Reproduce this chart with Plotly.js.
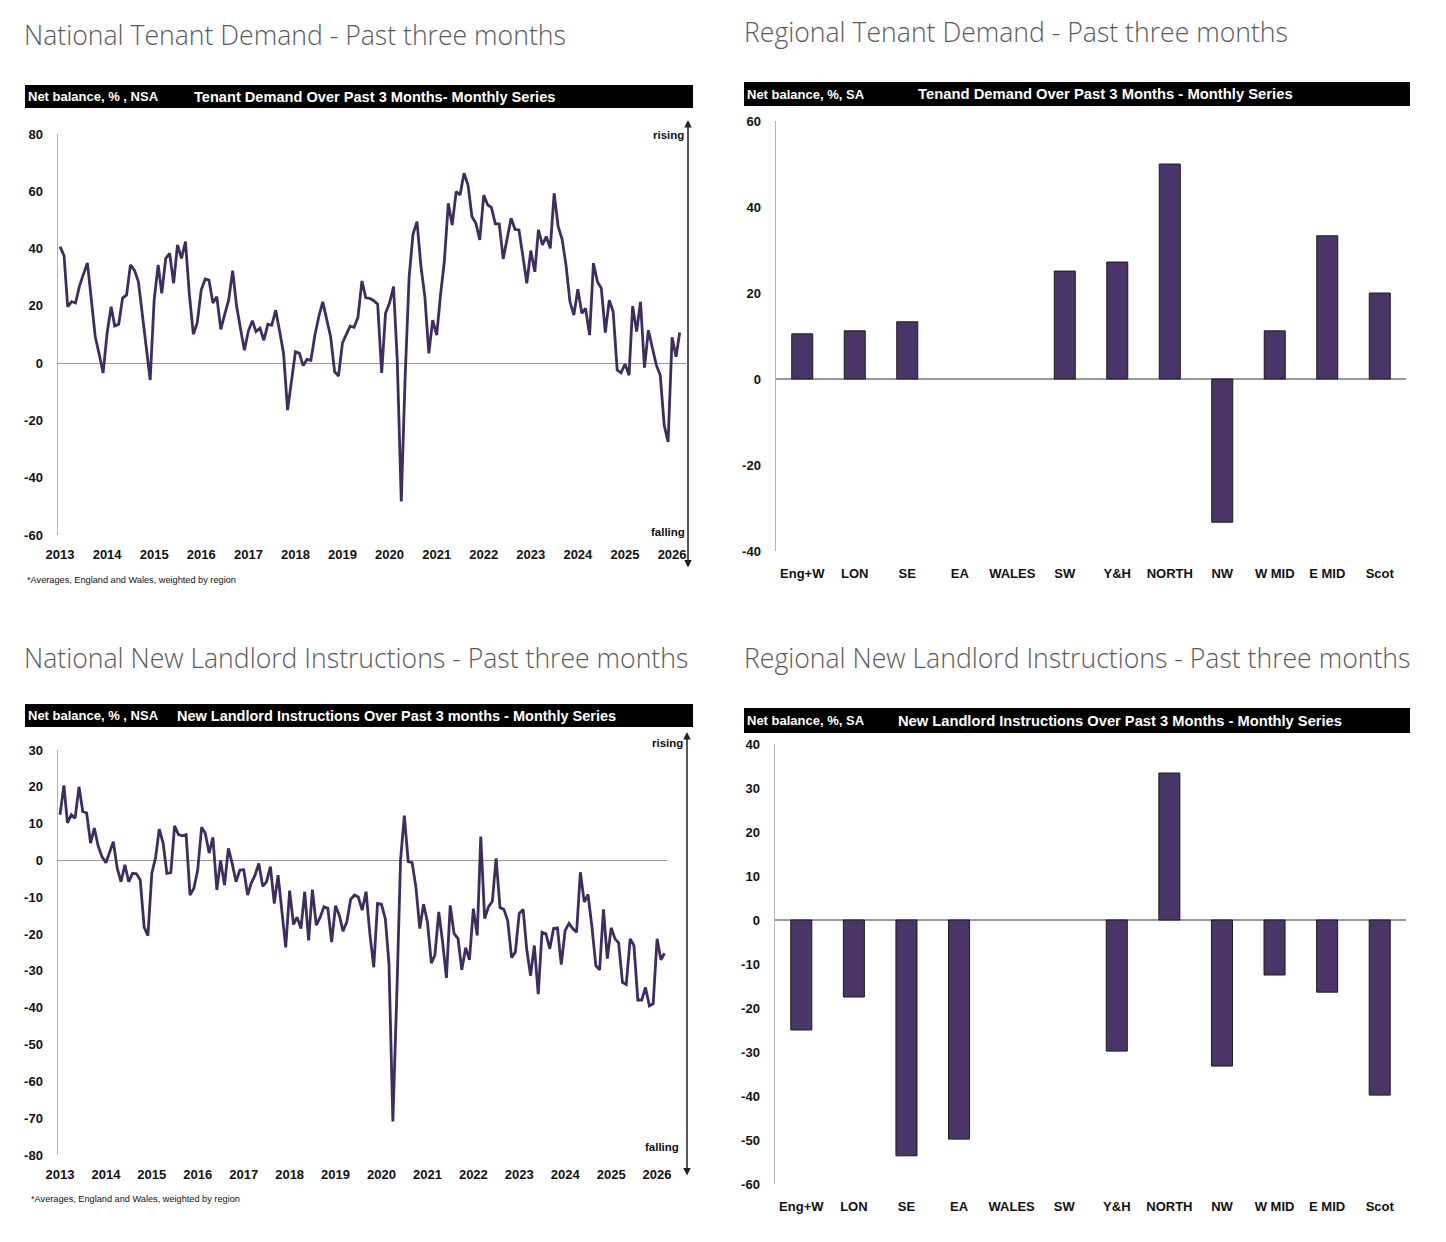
<!DOCTYPE html>
<html>
<head>
<meta charset="utf-8">
<script src="https://cdn.plot.ly/plotly-3.0.1.min.js"></script>
<style>
  html, body { margin: 0; padding: 0; background: #fff; }
  #chart { width: 1446px; height: 1242px; }
</style>
</head>
<body>
<div id="chart"></div>
<script>
// ---------------- DATA ----------------
const startYear = 2013;
const yearLabels = ['2013','2014','2015','2016','2017','2018','2019','2020','2021','2022','2023','2024','2025','2026'];

// National tenant demand, net balance %, monthly from Jan 2013
const tenantDemandNational = [
  40.7, 37.5, 19.7, 21.5, 21, 27, 31, 35, 22, 9.2, 3, -3.4,
  10.5, 19.7, 13, 13.6, 22.7, 23.8, 34.3, 32.5, 28.4, 17, 5, -5.9,
  22, 34.3, 24.4, 36.6, 38.3, 27.9, 41.3, 36.6, 42.4, 24, 10.1, 14,
  25.5, 29.4, 29, 21, 23.2, 11.8, 17, 22, 32.3, 20, 12, 4.5,
  11.3, 14.8, 11, 12.2, 8, 13.6, 13.2, 18.5, 11, 3.4, -16.4, -6,
  4, 3.4, -0.9, 1.3, 1, 9.8, 16.2, 21.4, 15, 9.2, -3, -4.5,
  7.1, 10.4, 12.9, 12.5, 16, 28.7, 22.8, 22.6, 21.8, 20.6, -3.4, 17.4,
  21, 26.7, 1, -48.3, -5, 30, 45, 49.4, 33.7, 23.2, 3.4, 15,
  9.8, 24.4, 35.4, 55.8, 48.2, 59.9, 58.7, 66.3, 62.2, 51.2, 48.8, 43,
  58.7, 55.2, 54.4, 48.6, 48.6, 36.4, 43, 50.6, 46.7, 46.5, 37.2, 27.9,
  39.3, 31.9, 46.5, 41.3, 44.2, 40.1, 59.3, 47.7, 43.2, 34.3, 21.4, 16.8,
  25.8, 17.4, 19.1, 9.8, 34.9, 28.4, 26.1, 10.7, 22, 17.9, -2.4, -3.4,
  -0.3, -4.2, 19.9, 11, 21.4, -1.6, 11.5, 5.7, -0.7, -4.2, -21.7, -27.5,
  9, 2.2, 10.7
];

// National new landlord instructions, net balance %, monthly from Jan 2013
const landlordNational = [
  12.4, 20.4, 10.2, 12.4, 11.5, 20, 13.3, 12.9, 4.7, 8.8, 3.8, 1,
  -0.6, 2.4, 5.1, -2.1, -5.8, -1.2, -5.8, -3.5, -3.6, -5.3, -18.1, -20.4,
  -3.5, 1, 8.5, 4.7, -3.5, -3.3, 9.4, 7, 6.7, 7, -9.4, -7.6,
  -2.6, 9, 7.4, 2, 6.3, -8, 0, -6.7, 3.3, -0.8, -5.8, -2.6,
  -2.5, -9.4, -6.2, -4, -0.8, -7, -5.8, -1.7, -11.7, -4, -13.5, -23.6,
  -8.2, -17.4, -15.4, -18.5, -8.5, -21.7, -7.9, -17.6, -15.4, -12.6, -13, -22.2,
  -12.3, -15, -19.2, -16.7, -10.6, -9.4, -9.9, -13.5, -8.5, -19.9, -29, -11.7,
  -11.9, -15.8, -28, -70.9, -38, 0, 12.2, -0.3, -0.6, -7.2, -18.5, -11.9,
  -16.7, -27.9, -25.8, -14, -22, -31.9, -12.2, -19.9, -21.2, -29.7, -23.7, -27,
  -13.1, -20.4, 6.5, -15.8, -12.6, -11.1, 0.6, -12.8, -13.3, -16.3, -26.4, -24.9,
  -14.4, -13.3, -24, -31.3, -23.1, -36.3, -19.5, -19.9, -24, -18.5, -18.3, -28.3,
  -19, -17.1, -18.5, -19.5, -3.2, -11.3, -9.2, -18, -28.6, -29.7, -13.3, -26.7,
  -18.3, -21.3, -22.4, -33.1, -33.7, -21.3, -23.1, -37.9, -37.9, -34.5, -39.5, -38.9,
  -21.3, -27, -25.2
];

const regions = ['Eng+W','LON','SE','EA','WALES','SW','Y&H','NORTH','NW','W MID','E MID','Scot'];
// null = no bar shown for that region
const tenantDemandRegional = [10.5, 11.2, 13.3, null, null, 25.1, 27.2, 50, -33.3, 11.2, 33.3, 20];
const landlordRegional = [-25, -17.5, -53.6, -49.8, null, null, -29.8, 33.4, -33.2, -12.5, -16.4, -39.8];

const yTicksTL = [-60, -40, -20, 0, 20, 40, 60, 80];
const yTicksTR = [-40, -20, 0, 20, 40, 60];
const yTicksBL = [-80, -70, -60, -50, -40, -30, -20, -10, 0, 10, 20, 30];
const yTicksBR = [-60, -50, -40, -30, -20, -10, 0, 10, 20, 30, 40];

// ---------------- HELPERS ----------------
const W = 1446, H = 1242;
const px = x => x / W;
const py = y => 1 - y / H;
function monthDates(n) {
  const out = [];
  for (let i = 0; i < n; i++) {
    const y = startYear + Math.floor(i / 12);
    const m = (i % 12) + 1;
    out.push(y + '-' + (m < 10 ? '0' + m : m) + '-01');
  }
  return out;
}
const yearTicks = yearLabels.map(y => y + '-01-01');

const LINE_COLOR = '#3f2d62';
const BAR_COLOR = '#4a3568';
const SANS = '"Liberation Sans", Arial, sans-serif';
const tickFont = { family: SANS, size: 13, color: '#111', weight: 700 };

// ---------------- TRACES ----------------
const traces = [
  { type: 'scatter', mode: 'lines', x: monthDates(tenantDemandNational.length), y: tenantDemandNational,
    xaxis: 'x', yaxis: 'y', line: { color: LINE_COLOR, width: 2.8 } },
  { type: 'bar', x: regions, y: tenantDemandRegional, xaxis: 'x2', yaxis: 'y2',
    marker: { color: BAR_COLOR, line: { color: '#1c1c1c', width: 1 } } },
  { type: 'scatter', mode: 'lines', x: monthDates(landlordNational.length), y: landlordNational,
    xaxis: 'x3', yaxis: 'y3', line: { color: LINE_COLOR, width: 2.8 } },
  { type: 'bar', x: regions, y: landlordRegional, xaxis: 'x4', yaxis: 'y4',
    marker: { color: BAR_COLOR, line: { color: '#1c1c1c', width: 1 } } }
];

// ---------------- AXES ----------------
function yAxis(domain, range, ticks, anchor) {
  return { domain: domain, range: range, anchor: anchor,
    tickmode: 'array', tickvals: ticks, ticktext: ticks.map(v => String(v)),
    showline: true, linecolor: '#b5b5b5', linewidth: 1.5, showgrid: false,
    zeroline: true, zerolinecolor: '#9a9a9a', zerolinewidth: 1.2,
    ticks: '', tickfont: tickFont, ticklabelstandoff: 11, fixedrange: true };
}
function xDate(domain, range, anchor) {
  return { domain: domain, type: 'date', range: range, anchor: anchor,
    tickmode: 'array', tickvals: yearTicks, ticktext: yearLabels,
    showline: false, showgrid: false, zeroline: false,
    ticks: '', tickfont: tickFont, ticklabelstandoff: 10, fixedrange: true };
}
function xCat(domain, anchor) {
  return { domain: domain, type: 'category', anchor: anchor, showline: false, showgrid: false,
    zeroline: false, ticks: '', tickfont: tickFont, ticklabelstandoff: 13, fixedrange: true };
}

// ---------------- SHAPES / ANNOTATIONS ----------------
const shapes = [];
const annotations = [];
function headerBar(x0, x1, y0, y1, leftText, leftX, leftSize, rightText, rightX, rightSize) {
  shapes.push({ type: 'rect', xref: 'paper', yref: 'paper', x0: px(x0), x1: px(x1), y0: py(y1), y1: py(y0),
    fillcolor: '#000', line: { width: 0 }, layer: 'above' });
  const yc = py((y0 + y1) / 2);
  annotations.push({ xref: 'paper', yref: 'paper', x: px(leftX), y: yc, xanchor: 'left', yanchor: 'middle',
    text: leftText, showarrow: false, font: { family: SANS, size: leftSize, color: '#fff', weight: 700 } });
  annotations.push({ xref: 'paper', yref: 'paper', x: px(rightX), y: yc, xanchor: 'left', yanchor: 'middle',
    text: rightText, showarrow: false, font: { family: SANS, size: rightSize, color: '#fff', weight: 700 } });
}
function mainTitle(text, x, y) {
  annotations.push({ xref: 'paper', yref: 'paper', x: px(x), y: py(y), xanchor: 'left', yanchor: 'middle',
    text: text, showarrow: false, font: { family: '"Open Sans", sans-serif', size: 26.6, color: '#5a5a5a', weight: 300 } });
}
function smallText(text, x, y, anchor, size, bold) {
  annotations.push({ xref: 'paper', yref: 'paper', x: px(x), y: py(y), xanchor: anchor, yanchor: 'middle',
    text: text, showarrow: false,
    font: { family: SANS, size: size, color: '#111', weight: bold ? 700 : 400 } });
}
function doubleArrow(x, yTop, yBottom) {
  annotations.push({ xref: 'paper', yref: 'paper', x: px(x), y: py(yTop), ax: 0, ay: yBottom - yTop,
    text: '', showarrow: true, arrowhead: 2, startarrowhead: 2, arrowside: 'end+start',
    arrowsize: 1, startarrowsize: 1, arrowwidth: 1.5, arrowcolor: '#222', standoff: 0, startstandoff: 0 });
}

// Top-left
mainTitle('National Tenant Demand - Past three months', 22, 35);
headerBar(25, 693, 85, 108, 'Net balance, % , NSA', 26, 13, 'Tenant Demand Over Past 3 Months- Monthly Series', 192, 14.6);
doubleArrow(688, 120, 569);
smallText('rising', 686, 135, 'right', 11.5, true);
smallText('falling', 687, 532, 'right', 11.5, true);
smallText('*Averages, England and Wales, weighted by region', 25, 580, 'left', 9.2, false);

// Top-right
mainTitle('Regional Tenant Demand - Past three months', 742, 32);
headerBar(744, 1410, 82, 106, 'Net balance, %, SA', 745, 13, 'Tenand Demand Over Past 3 Months - Monthly Series', 916, 14.8);

// Bottom-left
mainTitle('National New Landlord Instructions - Past three months', 22, 658);
headerBar(25, 693, 704, 727, 'Net balance, % , NSA', 26, 13, 'New Landlord Instructions Over Past 3 months - Monthly Series', 175, 14.5);
doubleArrow(687, 732, 1177);
smallText('rising', 685, 743, 'right', 11.5, true);
smallText('falling', 681, 1147, 'right', 11.5, true);
smallText('*Averages, England and Wales, weighted by region', 29, 1199, 'left', 9.2, false);

// Bottom-right
mainTitle('Regional New Landlord Instructions - Past three months', 742, 658);
headerBar(744, 1410, 708, 733, 'Net balance, %, SA', 745, 13, 'New Landlord Instructions Over Past 3 Months - Monthly Series', 896, 14.7);

const layout = {
  width: W, height: H, margin: { l: 0, r: 0, t: 0, b: 0 },
  paper_bgcolor: '#fff', plot_bgcolor: '#fff', showlegend: false,
  bargap: 0.6,
  xaxis:  xDate([px(58), px(686)], ['2012-12-16', '2026-04-19'], 'y'),
  yaxis:  yAxis([py(535), py(134)], [-60, 80], yTicksTL, 'x'),
  xaxis2: xCat([px(776), px(1406)], 'y2'),
  yaxis2: yAxis([py(551), py(121)], [-40, 60], yTicksTR, 'x2'),
  xaxis3: xDate([px(58), px(667)], ['2012-12-16', '2026-03-21'], 'y3'),
  yaxis3: yAxis([py(1155), py(750)], [-80, 30], yTicksBL, 'x3'),
  xaxis4: xCat([px(775), px(1406)], 'y4'),
  yaxis4: yAxis([py(1184), py(744)], [-60, 40], yTicksBR, 'x4'),
  shapes: shapes,
  annotations: annotations
};

Plotly.newPlot('chart', traces, layout, { displayModeBar: false, staticPlot: true });
</script>
</body>
</html>
